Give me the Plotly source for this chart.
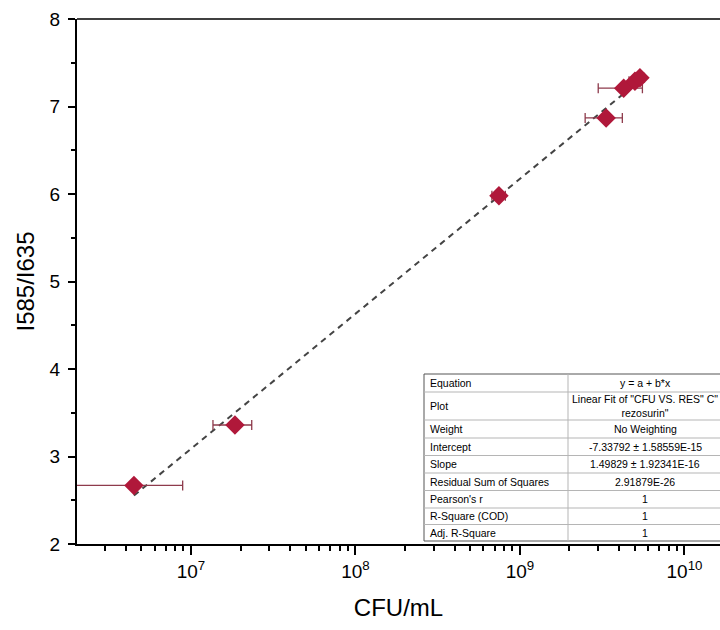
import numpy as np
import plotly.graph_objects as go

# ---- data ----
cfu = [4.5e6, 1.85e7, 7.45e8, 3.34e9, 4.27e9, 5.0e9, 5.36e9]
cfu_err = [4.4e6, 4.9e6, 7.0e7, 8.5e8, 1.28e9, 4.0e8, 3.5e8]
ratio = [2.67, 3.36, 5.98, 6.87, 7.21, 7.29, 7.33]

x_tickvals = [1e7, 1e8, 1e9, 1e10]
x_ticktext = ["10<sup>7</sup>", "10<sup>8</sup>", "10<sup>9</sup>", "10<sup>10</sup>"]
y_tickvals = [2, 3, 4, 5, 6, 7, 8]

table_labels = ["Equation", "Plot", "Weight", "Intercept", "Slope",
                "Residual Sum of Squares", "Pearson's r", "R-Square (COD)", "Adj. R-Square"]
table_values = ["y = a + b*x", "Linear Fit of \"CFU VS. RES\" C\"<br>rezosurin\"", "No Weighting",
                "-7.33792 \u00b1 1.58559E-15", "1.49829 \u00b1 1.92341E-16", "2.91879E-26",
                "1", "1", "1"]

# ---- layout geometry (pixels) ----
W, H = 720, 630
L, R, T, B = 77, 0, 19, 86
pw, ph = W - L - R, H - T - B

def px(xp):
    return (xp - L) / pw

def py(yp):
    return (H - B - yp) / ph

fig = go.Figure()

# linear fit in log space
lx = np.log10(np.array(cfu))
b, a = np.polyfit(lx, np.array(ratio), 1)
fx = np.array([lx[0], lx[-1]])
fig.add_trace(go.Scatter(
    x=10 ** fx, y=a + b * fx, mode="lines",
    line=dict(color="#444444", width=2, dash="6px,5px"),
    showlegend=False, hoverinfo="skip"))

fig.add_trace(go.Scatter(
    x=cfu, y=ratio, mode="markers",
    marker=dict(symbol="diamond", size=15, color="#B0183A",
                line=dict(width=0)),
    error_x=dict(type="data", array=cfu_err, color="#8E3B4C",
                 thickness=1.3, width=5),
    showlegend=False))

font_family = "Liberation Sans, Arial, sans-serif"

fig.update_layout(
    width=W, height=H,
    margin=dict(l=L, r=R, t=T, b=B),
    paper_bgcolor="white", plot_bgcolor="white",
    font=dict(family=font_family, color="black"),
    xaxis=dict(
        type="log", range=[6.307, 10.216],
        tickvals=x_tickvals, ticktext=x_ticktext,
        ticks="outside", ticklen=9, tickwidth=2, tickcolor="black",
        showline=True, linewidth=2, linecolor="black",
        showgrid=False, zeroline=False,
        tickfont=dict(size=19),
        minor=dict(dtick="D1", ticks="outside", ticklen=5, tickwidth=1.5,
                   tickcolor="black", showgrid=False),
        title=dict(text="CFU/mL", font=dict(size=24), standoff=18),
    ),
    yaxis=dict(
        range=[2, 8], tickvals=y_tickvals,
        ticks="outside", ticklen=7, tickwidth=2, tickcolor="black",
        showline=True, linewidth=2, linecolor="black",
        showgrid=False, zeroline=False,
        tickfont=dict(size=19),
        ticklabelstandoff=4,
        minor=dict(dtick=0.5, ticks="outside", ticklen=4, tickwidth=1.5,
                   tickcolor="black", showgrid=False),
        title=dict(text="I585/I635", font=dict(size=24), standoff=8),
    ),
)

shapes = []
# top frame line
shapes.append(dict(type="line", xref="paper", yref="paper",
                   x0=0, x1=1, y0=1, y1=1, line=dict(color="black", width=1.5)))

# table
tx0, tx1, tx2 = 424, 568, 740
bounds = [374, 392, 420, 438, 455.5, 473, 490.5, 508, 524.5, 541]
shapes.append(dict(type="rect", xref="paper", yref="paper",
                   x0=px(tx0), x1=px(tx2), y0=py(bounds[-1]), y1=py(bounds[0]),
                   fillcolor="white", line=dict(color="#555555", width=1), layer="above"))
for yb in bounds[1:-1]:
    shapes.append(dict(type="line", xref="paper", yref="paper",
                       x0=px(tx0), x1=px(tx2), y0=py(yb), y1=py(yb),
                       line=dict(color="#b5b5b5", width=1), layer="above"))
shapes.append(dict(type="line", xref="paper", yref="paper",
                   x0=px(tx1), x1=px(tx1), y0=py(bounds[-1]), y1=py(bounds[0]),
                   line=dict(color="#b5b5b5", width=1), layer="above"))

annotations = []
for i, (lab, val) in enumerate(zip(table_labels, table_values)):
    yc = (bounds[i] + bounds[i + 1]) / 2
    annotations.append(dict(xref="paper", yref="paper", x=px(tx0 + 4), y=py(yc),
                            text=lab, showarrow=False, xanchor="left", yanchor="middle",
                            font=dict(size=10.5, color="black")))
    annotations.append(dict(xref="paper", yref="paper", x=px(645), y=py(yc),
                            text=val, showarrow=False, xanchor="center", yanchor="middle",
                            font=dict(size=10.5, color="black")))

fig.update_layout(shapes=shapes, annotations=annotations)

fig.write_html("out.html")
